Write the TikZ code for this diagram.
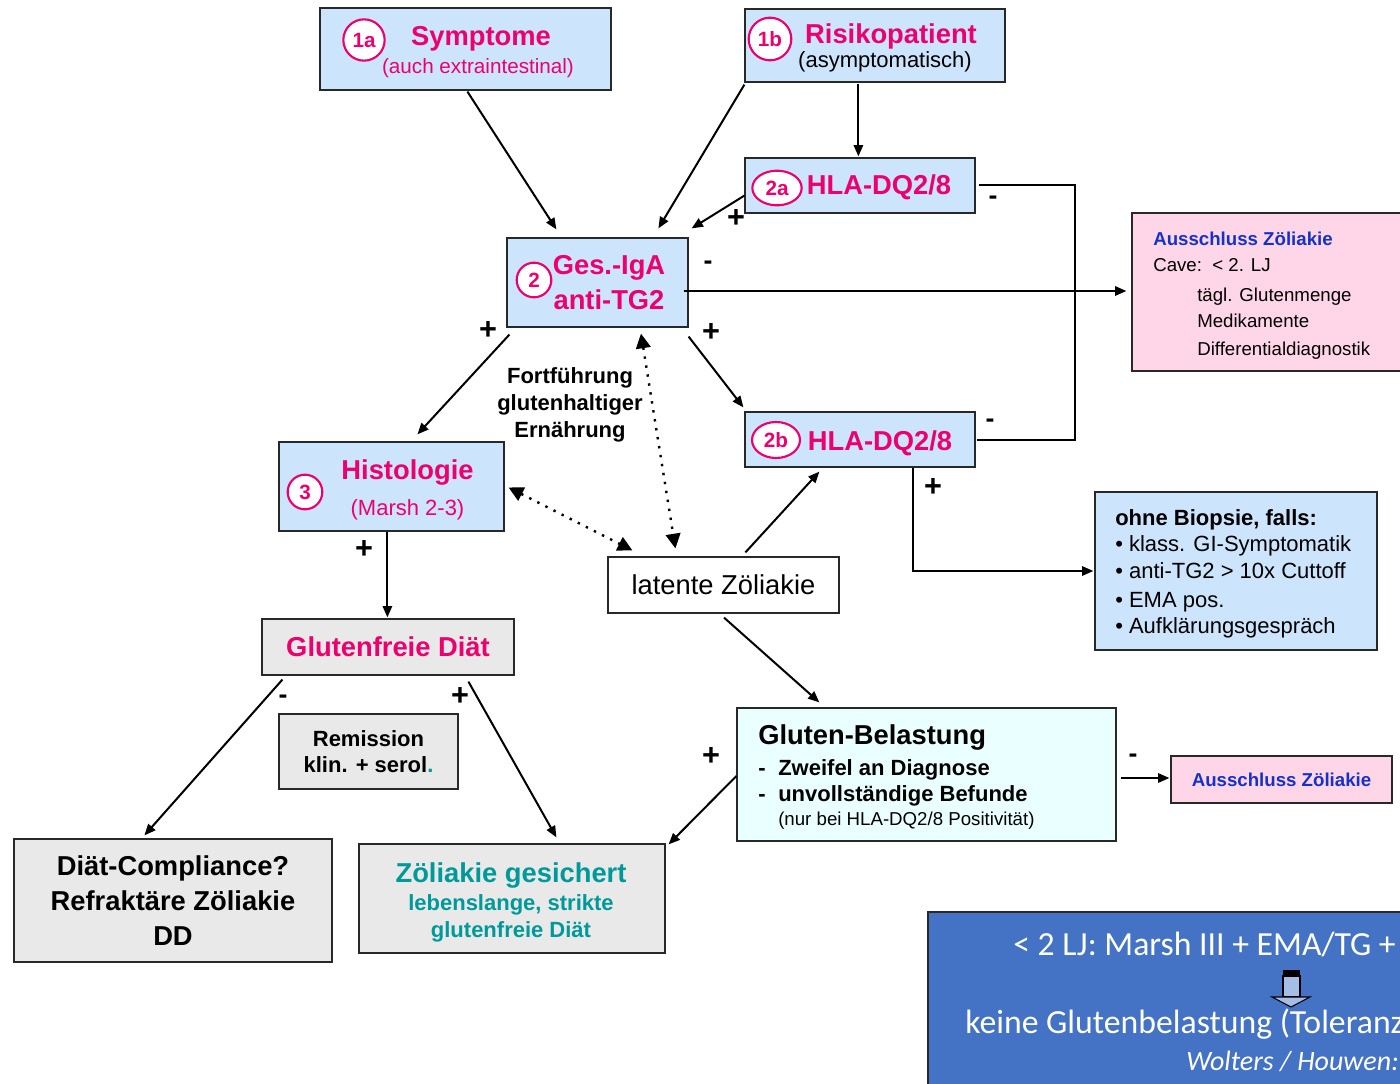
\documentclass[tikz,border=0pt]{standalone}
\usepackage{fontspec}
\setmainfont{Liberation Sans}
\newfontfamily\calibfont{Carlito}
\usetikzlibrary{arrows.meta,calc,shapes.geometric}

\definecolor{mag}{RGB}{236,0,110}
\definecolor{boxblue}{RGB}{204,228,252}
\definecolor{boxgray}{RGB}{233,233,233}
\definecolor{boxpink}{RGB}{255,214,232}
\definecolor{boxcyan}{RGB}{234,255,255}
\definecolor{tealtxt}{RGB}{0,153,153}
\definecolor{linkblue}{RGB}{20,50,200}
\definecolor{noteblue}{RGB}{68,114,196}
\definecolor{arrowfill}{RGB}{166,190,230}
\definecolor{frame}{RGB}{40,40,40}

\newcommand\fs[2]{\fontsize{#1}{#2}\selectfont}

\tikzset{
  box/.style={draw=frame, line width=0.9pt, inner sep=0pt, anchor=center},
  bluebox/.style={box, fill=boxblue},
  graybox/.style={box, fill=boxgray},
  pinkbox/.style={box, fill=boxpink},
  cyanbox/.style={box, fill=boxcyan},
  whitebox/.style={box, fill=white},
  numc/.style={circle, draw=mag, fill=white, line width=1.6pt, inner sep=0pt,
               text=mag, font=\fs{15.5}{18}\bfseries},
  nume/.style={ellipse, draw=mag, fill=white, line width=1.6pt, inner sep=0pt,
               text=mag, font=\fs{15.5}{18}\bfseries},
  head/.style={text=mag, font=\fs{20.5}{24}\bfseries, inner sep=0pt, anchor=base},
  sub/.style={font=\fs{16.5}{20}, inner sep=0pt, anchor=base},
  txt/.style={inner sep=0pt, anchor=base west},
  sign/.style={font=\fs{20}{22}\bfseries, inner sep=0pt},
  plus/.style={font=\fs{23}{25}\bfseries, inner sep=0pt},
  arr/.style={-{Triangle[length=8.5pt,width=7pt]}, line width=1.5pt},
  dots/.style={{Triangle[length=11pt,width=11pt]}-{Triangle[length=11pt,width=11pt]},
               line width=1.8pt, dash pattern=on 1.8pt off 5pt},
  plain/.style={line width=1.5pt},
}

\begin{document}
\begin{tikzpicture}[x=0.75pt, y=-0.75pt]
\useasboundingbox[fill=white] (0,0) rectangle (1400,1084);

% ---------- boxes ----------
\node[bluebox, minimum width=218.25pt, minimum height=61.5pt]  (sym)  at (465.5,49) {};
\node[bluebox, minimum width=195pt,    minimum height=54.75pt] (risk) at (875,45.5) {};
\node[bluebox, minimum width=172.5pt,  minimum height=41.25pt] (hlaa) at (860,185.5) {};
\node[bluebox, minimum width=135.75pt, minimum height=66.75pt] (ges)  at (597.5,282.5) {};
\node[bluebox, minimum width=172.5pt,  minimum height=41.25pt] (hlab) at (860,439.5) {};
\node[pinkbox, minimum width=216pt,    minimum height=118.5pt] (excl) at (1276,292) {};
\node[bluebox, minimum width=211.5pt,  minimum height=118.5pt] (nobio) at (1236,571) {};
\node[bluebox, minimum width=168.75pt, minimum height=66.75pt] (hist) at (391.5,486.5) {};
\node[whitebox, minimum width=173.25pt, minimum height=42pt, font=\fs{20.5}{24}] (lat) at (723.5,585) {latente Zöliakie};
\node[graybox, minimum width=189pt, minimum height=42pt, text=mag, font=\fs{20.5}{24}\bfseries] (gfd) at (388,647) {Glutenfreie Diät};
\node[graybox, minimum width=134.25pt, minimum height=56.25pt, align=center, font=\fs{16.5}{19.5}\bfseries] (rem) at (368.5,751.5)
  {Remission\\klin. + serol\textcolor{tealtxt}{.}};
\node[graybox, minimum width=238.5pt, minimum height=92.25pt, align=center, font=\fs{20.5}{26}\bfseries] (comp) at (173,900.5)
  {Diät-Compliance?\\Refraktäre Zöliakie\\DD};
\node[graybox, minimum width=229.5pt, minimum height=81.75pt] (sure) at (512,898.5) {};
\node[cyanbox, minimum width=284.25pt, minimum height=99.75pt] (chal) at (926.5,774.5) {};
\node[pinkbox, minimum width=165.75pt, minimum height=35.25pt, text=linkblue, font=\fs{14}{16}\bfseries] (excltwo) at (1281.5,779.5)
  {Ausschluss Zöliakie};
\node[box, fill=noteblue, minimum width=376.5pt, minimum height=141pt] (note) at (1179,1006) {};

% ---------- texts inside boxes ----------
\node[numc, minimum size=31pt] (n1a) at (364,40) {1a};
\node[head] (symt) at (481,46) {Symptome};
\node[sub, text=mag, font=\fs{15.5}{18}] (syms) at (478,74) {(auch extraintestinal)};

\node[numc, minimum size=32pt] (n1b) at (770,39) {1b};
\node[head] (riskt) at (891,44) {Risikopatient};
\node[sub] (risks) at (885,68) {(asymptomatisch)};

\node[nume, minimum width=37pt, minimum height=26pt] (n2a) at (777,188) {2a};
\node[head] (hlaat) at (879,195) {HLA-DQ2/8};

\node[numc, minimum size=26pt] (n2) at (534,280) {2};
\node[head] (gest) at (609,275) {Ges.-IgA};
\node[head] (gess) at (609,310) {anti-TG2};

\node[nume, minimum width=36pt, minimum height=27pt] (n2b) at (776,440) {2b};
\node[head] (hlabt) at (880,450) {HLA-DQ2/8};

\node[numc, minimum size=26pt] (n3) at (305,492) {3};
\node[head] (histt) at (407.5,479) {Histologie};
\node[sub, text=mag] (hists) at (407.5,515) {(Marsh 2-3)};

\node[txt, text=linkblue, font=\fs{14}{16}\bfseries] (ex1) at (1153,246) {Ausschluss Zöliakie};
\node[txt, font=\fs{14}{16}] (ex2) at (1153,272) {Cave:\ \ < 2. LJ};
\node[txt, font=\fs{14}{16}] (ex3) at (1197,302) {tägl. Glutenmenge};
\node[txt, font=\fs{14}{16}] (ex4) at (1197,328) {Medikamente};
\node[txt, font=\fs{14}{16}] (ex5) at (1197,355) {Differentialdiagnostik};

\node[txt, font=\fs{16.5}{20}\bfseries] (nb1) at (1115,525) {ohne Biopsie, falls:};
\node[txt, font=\fs{16.5}{20}] (nb2) at (1115,551) {• klass. GI-Symptomatik};
\node[txt, font=\fs{16.5}{20}] (nb3) at (1115,578) {• anti-TG2 > 10x Cuttoff};
\node[txt, font=\fs{16.5}{20}] (nb4) at (1115,607) {• EMA pos.};
\node[txt, font=\fs{16.5}{20}] (nb5) at (1115,633) {• Aufklärungsgespräch};

\node[head, text=tealtxt] (suret) at (511,882) {Zöliakie gesichert};
\node[sub, text=tealtxt, font=\fs{16.5}{20}\bfseries] (sures1) at (511,910) {lebenslange, strikte};
\node[sub, text=tealtxt, font=\fs{16.5}{20}\bfseries] (sures2) at (511,937) {glutenfreie Diät};

\node[txt, font=\fs{20.5}{24}\bfseries] (chalt) at (758,744) {Gluten-Belastung};
\node[txt, font=\fs{16.5}{20}\bfseries] (chal1) at (758,775) {\makebox[15pt][l]{-}Zweifel an Diagnose};
\node[txt, font=\fs{16.5}{20}\bfseries] (chal2) at (758,801) {\makebox[15pt][l]{-}unvollständige Befunde};
\node[txt, font=\fs{14}{16}] (chal3) at (778,825) {(nur bei HLA-DQ2/8 Positivität)};

\node[inner sep=0pt, align=center, font=\fs{16.5}{20}\bfseries] (cont) at (570,405)
  {Fortführung\\glutenhaltiger\\Ernährung};

% ---------- note box ----------
\node[txt, text=white, font=\calibfont\fs{25.3}{29}] (nt1) at (1013,955) {< 2 LJ: Marsh III + EMA/TG +};
\node[txt, text=white, font=\calibfont\fs{25.3}{29}] (nt2) at (965,1033) {keine Glutenbelastung (Toleranz};
\node[txt, text=white, font=\calibfont\fs{21}{24}\itshape] (nt3) at (1186,1070) {Wolters / Houwen:};
\fill[arrowfill, draw=black, line width=0.8pt] (1283,976) rectangle (1300,997);
\fill[black] (1283,970) rectangle (1300,977);
\filldraw[fill=arrowfill, draw=black, line width=0.8pt] (1272,997) -- (1310,997) -- (1291,1007) -- cycle;

% ---------- connectors ----------
\draw[arr] ($(sym.south west)+(148,1)$) -- ($(ges.north west)+(50,-8)$);
\draw[arr] ($(risk.south west)+(0,2)$) -- ($(ges.north west)+(152,-9)$);
\draw[arr] ($(risk.south west)+(114,1)$) -- ($(hlaa.north west)+(114,-1)$);
\draw[arr] ($(hlaa.south west)+(0,-18)$) -- ($(ges.north east)+(3,-9)$);
\draw[plain] ($(hlaa.east)+(3,0)$) -- ++(96,0) |- ($(hlab.east)+(1,0)$);
\draw[arr] ($(ges.east)+(-5,8.5)$) -- ($(excl.west)+(-5,-1)$);
\draw[arr] ($(ges.south east)+(0,9)$) -- ($(hlab.north west)+(-1,-4)$);
\draw[arr] ($(ges.south west)+(3,7)$) -- ($(hist.north west)+(139,-7)$);
\draw[dots] ($(ges.south)+(43.5,6)$) -- ($(lat.north west)+(68,-8)$);
\draw[dots] ($(hist.east)+(4,1)$) -- ($(lat.north west)+(25,-6)$);
\draw[arr] ($(lat.north west)+(138,-4)$) -- ($(hlab.south west)+(75,4)$);
\draw[arr] ($(hlab.south west)+(169,0)$) |- ($(nobio.west)+(-1,0)$);
\draw[arr] ($(hist.south west)+(109,0)$) -- ($(gfd.north west)+(126,-1)$);
\draw[arr] ($(lat.south)+(0.5,4)$) -- ($(chal.north west)+(83,-5)$);
\draw[arr] ($(gfd.south west)+(21,4)$) -- ($(comp.north west)+(131,-3)$);
\draw[arr] ($(gfd.south west)+(207,6)$) -- ($(sure.north west)+(198,-6)$);
\draw[arr] ($(chal.west)+(0,1.5)$) -- ($(sure.north east)+(3,1)$);
\draw[arr] ($(chal.east)+(4,3.5)$) -- ($(excltwo.west)+(-1,-1.5)$);

% ---------- branch signs ----------
\node[sign] (s1) at (993,200) {-};
\node[sign] (s2) at (990,423) {-};
\node[sign] (s3) at (708,265) {-};
\node[sign] (s4) at (283,699) {-};
\node[sign] (s5) at (1133,758) {-};
\node[plus] (p1) at (736,219) {+};
\node[plus] (p2) at (711,333) {+};
\node[plus] (p3) at (488,331) {+};
\node[plus] (p4) at (933,488) {+};
\node[plus] (p5) at (364,550) {+};
\node[plus] (p6) at (460,697) {+};
\node[plus] (p7) at (711,757) {+};
\end{tikzpicture}
\end{document}
